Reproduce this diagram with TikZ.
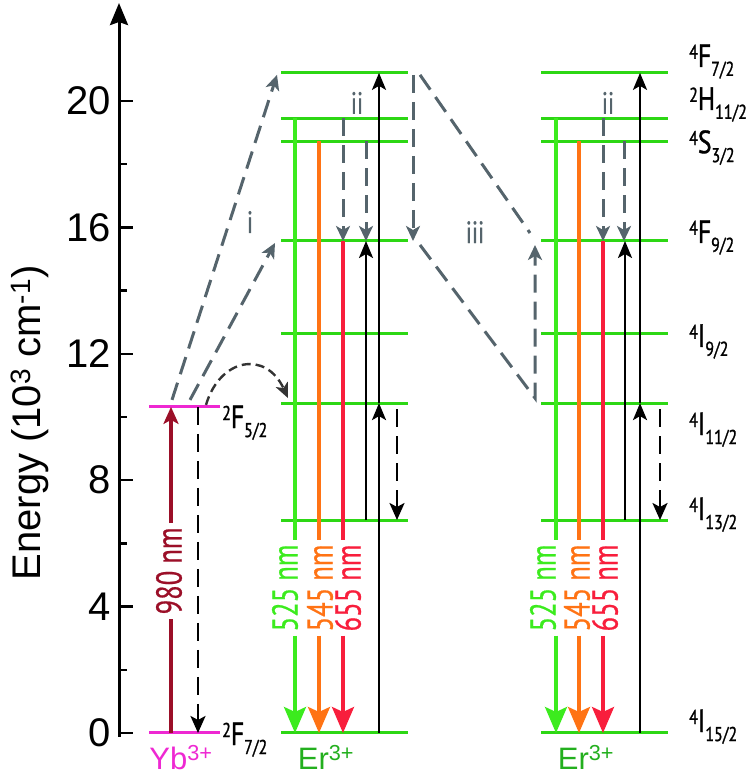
\documentclass[tikz,border=0pt]{standalone}
\usepackage{fontspec}
\setmainfont{Liberation Sans}
\newfontfamily\condfont[FakeStretch=0.74,FakeBold=0.6]{PT Sans}
\newfontfamily\termfont[FakeStretch=0.8,FakeBold=1.2]{PT Sans}
\usetikzlibrary{arrows.meta}

\definecolor{levelgreen}{RGB}{45,215,20}
\definecolor{w525}{RGB}{60,235,30}
\definecolor{w545}{RGB}{255,115,20}
\definecolor{w655}{RGB}{248,30,60}
\definecolor{pathgray}{RGB}{85,100,108}
\definecolor{ybmagenta}{RGB}{238,40,210}
\definecolor{pumpred}{RGB}{155,15,40}
\definecolor{ergreen}{RGB}{35,175,30}

% term symbol, e.g. \term{4}{F}{7/2}
\newcommand{\term}[3]{{\termfont\fontsize{32}{32}\selectfont
  \raisebox{8pt}{\fontsize{20}{20}\selectfont #1}#2\raisebox{-9pt}{\fontsize{20}{20}\selectfont #3}}}

\tikzset{
  level/.style={levelgreen,line width=3pt},
  ybline/.style={ybmagenta,line width=3pt},
  emit/.style={line width=3.4pt},
  emithead/.style={-{Stealth[length=26pt,width=22pt,inset=5pt]}},
  blk/.style={black,line width=2.6pt,-{Stealth[length=17pt,width=14pt,inset=4pt]}},
  blkdash/.style={black,line width=2.6pt,dash pattern=on 18pt off 9pt,
    -{Stealth[length=17pt,width=15pt,inset=4pt]}},
  relax/.style={pathgray,line width=3pt,dash pattern=on 18pt off 9pt,
    -{Stealth[length=15pt,width=14pt,inset=4pt]}},
  relaxline/.style={pathgray,line width=3pt,dash pattern=on 18pt off 9pt},
  transfer/.style={black!80,line width=2.4pt,dash pattern=on 9pt off 5pt,
    -{Stealth[length=15pt,width=13pt,inset=4pt]}},
  wavelbl/.style={font=\condfont\fontsize{36}{36}\selectfont,inner sep=4pt,rotate=90},
  termlbl/.style={inner sep=0pt,anchor=base west},
  stepno/.style={pathgray,font=\condfont\fontsize{31}{31}\selectfont,inner sep=0pt},
  ionlbl/.style={font=\fontsize{31}{31}\selectfont,inner sep=0pt,anchor=base},
}

\begin{document}
\begin{tikzpicture}[x=1pt,y=31.6pt]
  \useasboundingbox (0,-1.614) rectangle (747,23.196);

  % energy axis
  \draw[line width=3pt,-{Stealth[length=22pt,width=18pt,inset=3pt]}] (119,-0.12) -- (119,23.1);
  \foreach \t in {0,4,...,20} {
    \draw[line width=2.5pt] (119,\t) -- (133,\t);
    \node[anchor=east,font=\fontsize{40}{40}\selectfont,inner sep=0pt] (tick\t) at (111,\t) {\t};
  }
  \foreach \t in {2,6,...,18}
    \draw[line width=2.5pt] (119,\t) -- (127,\t);
  \node[rotate=90,anchor=base,font=\fontsize{40}{40}\selectfont,inner sep=0pt] (axislbl)
    at (40,9.81) {Energy (10\textsuperscript{3} cm\textsuperscript{-1})};

  % Yb levels
  \draw[ybline] (149,10.32) coordinate (ybF52l) -- (220,10.32) coordinate (ybF52r);
  \draw[ybline] (149,0) coordinate (ybF72l) -- (220,0) coordinate (ybF72r);

  % Er levels, two ions
  \foreach \lvl/\E in {F72/20.89,H112/19.46,S32/18.73,F92/15.57,I92/12.63,I112/10.44,I132/6.74,I152/0} {
    \draw[level] (281,\E) coordinate (a\lvl l) -- (408,\E) coordinate (a\lvl r);
    \draw[level] (541,\E) coordinate (b\lvl l) -- (668,\E) coordinate (b\lvl r);
  }

  % 980 nm pump and Yb relaxation
  \node[wavelbl,text=pumpred] (lbl980) at (169,5.13) {980 nm};
  \draw[pumpred,emit] (171,0) -- (171,0 |- lbl980.west);
  \draw[pumpred,emit,-{Stealth[length=17pt,width=15pt,inset=4pt]}] (171,0 |- lbl980.east) -- (171,0 |- ybF52l);
  \draw[blkdash] (198,0 |- ybF52l) -- (198,0 |- ybF72l);

  % emission lines
  \foreach \ion/\x/\tx/\up/\wl in {a/295/285/H112/525,a/319/320/S32/545,a/343/348/F92/655,
                                    b/556/543/H112/525,b/579/577/S32/545,b/603/605/F92/655} {
    \node[wavelbl,text=w\wl] (lbl\ion\wl) at (\tx,4.59) {\wl\ nm};
    \draw[w\wl,emit] (\x,0 |- \ion\up l) -- (\x,0 |- lbl\ion\wl.east);
    \draw[w\wl,emit,emithead] (\x,0 |- lbl\ion\wl.west) -- (\x,0 |- \ion I152l);
  }

  % excitation and nonradiative steps in each Er column
  \foreach \ion/\xa/\xb/\xc/\ga/\gb in {a/366/379/397/343/366,b/625/640/660/603/624} {
    \draw[blk] (\xa,0 |- \ion I132l) -- (\xa,0 |- \ion F92l);
    \draw[blk] (\xb,0 |- \ion I152l) -- (\xb,0 |- \ion I112l);
    \draw[blk] (\xb,0 |- \ion I112l) -- (\xb,0 |- \ion F72l);
    \draw[blkdash] ([yshift=-6pt]\xc,0 |- \ion I112l) -- (\xc,0 |- \ion I132l);
    \draw[relax] (\ga,0 |- \ion H112l) -- (\ga,0 |- \ion F92l);
    \draw[relax] (\gb,0 |- \ion S32l) -- (\gb,0 |- \ion F92l);
  }
  \node[stepno] (iiA) at (357,19.94) {ii};
  \node[stepno] (iiB) at (608,19.94) {ii};

  % energy transfer Yb -> Er (i)
  \draw[relax] ([xshift=23pt,yshift=7pt]ybF52l) -- ([xshift=-4pt,yshift=-2pt]aF72l);
  \draw[relax] ([xshift=41pt,yshift=7pt]ybF52l) -- ([xshift=-6pt,yshift=-2pt]aF92l);
  \node[stepno] (stepi) at (250,16.17) {i};
  \draw[transfer] ([xshift=57pt,yshift=2pt]ybF52l) .. controls +(14,1.49) and +(-22,1.52) .. ([xshift=7pt,yshift=5pt]aI112l);

  % cross relaxation (iii)
  \coordinate (iiiA) at ([xshift=-11pt,yshift=8pt]bF92l);
  \coordinate (iiiB) at ([xshift=-6pt,yshift=5pt]bI112l);
  \coordinate (iiiC) at ([xshift=-6pt,yshift=-4pt]bF92l);
  \draw[relax] ([xshift=5pt,yshift=-2pt]aF72r) -- ([xshift=5pt]aF92r);
  \draw[relaxline] ([xshift=12pt,yshift=-2pt]aF72r) -- (iiiA);
  \draw[relax] ([xshift=12pt,yshift=-4pt]aF92r) -- (iiiB) -- (iiiC);
  \node[stepno] (iii) at (475,15.85) {iii};

  % term labels
  \foreach \lbl/\E/\s/\L/\J in {F72/21.08/4/F/7\slash 2,H112/19.72/2/H/11\slash 2,S32/18.35/4/S/3\slash 2,
      F92/15.51/4/F/9\slash 2,I92/12.22/4/I/9\slash 2,I112/9.43/4/I/11\slash 2,
      I132/6.74/4/I/13\slash 2,I152/0.03/4/I/15\slash 2}
    \node[termlbl] (term\lbl) at (689,\E) {\term{\s}{\L}{\J}};
  \node[termlbl] (termYbF52) at (222,9.65) {\term{2}{F}{5/2}};
  \node[termlbl] (termYbF72) at (222,-0.38) {\term{2}{F}{7/2}};

  % ion labels
  \node[ionlbl,text=ybmagenta] (ionYb) at (181,-1.17) {Yb\textsuperscript{3+}};
  \node[ionlbl,text=ergreen] (ionEra) at (326,-1.17) {Er\textsuperscript{3+}};
  \node[ionlbl,text=ergreen] (ionErb) at (586,-1.17) {Er\textsuperscript{3+}};
\end{tikzpicture}
\end{document}
